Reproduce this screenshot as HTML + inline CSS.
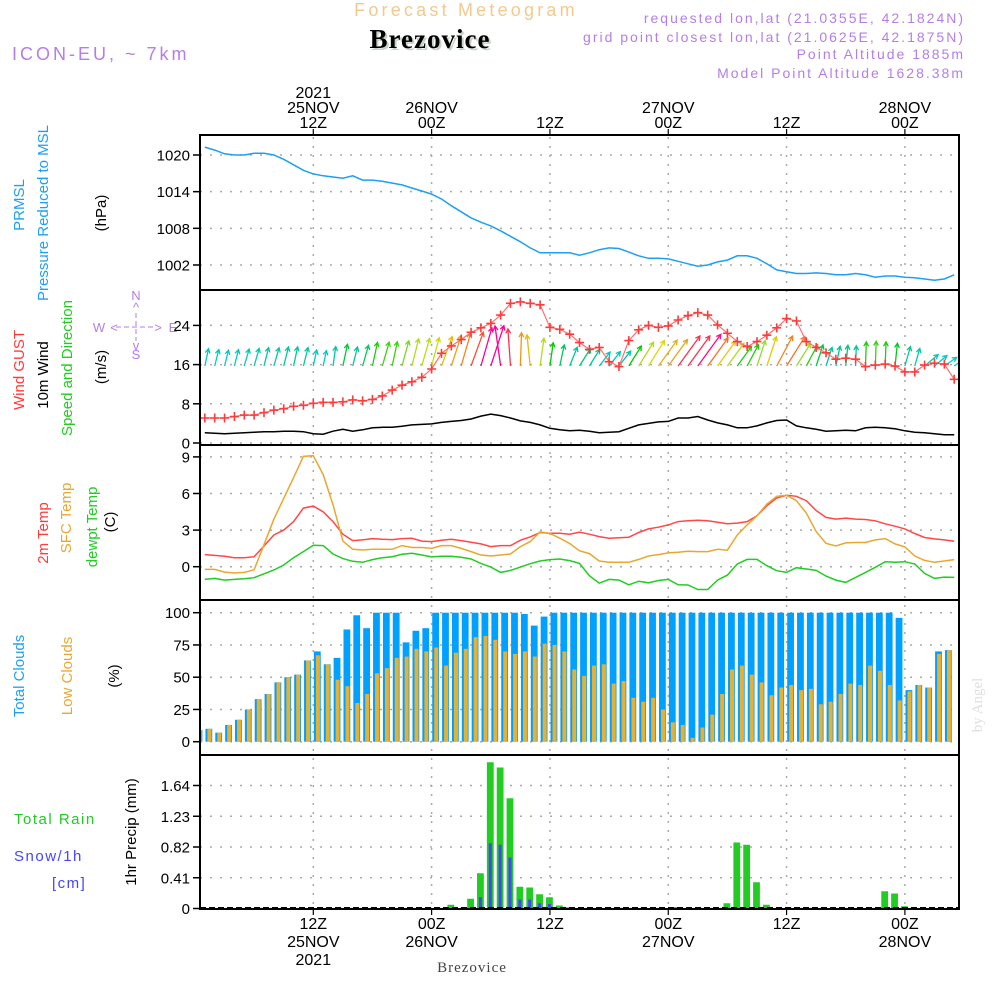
<!DOCTYPE html>
<html><head><meta charset="utf-8"><title>Meteogram Brezovice</title>
<style>
html,body{margin:0;padding:0;background:#fff;}
svg{display:block;font-family:"Liberation Sans",sans-serif;}
</style></head>
<body>
<svg id="chart" width="1000" height="1000" viewBox="0 0 1000 1000" xmlns="http://www.w3.org/2000/svg">
<g>
<text x="466" y="16" text-anchor="middle" font-size="18" fill="#f3c98e" letter-spacing="3.2">Forecast Meteogram</text>
<text x="432" y="50" text-anchor="middle" font-family="Liberation Serif,serif" font-weight="bold" font-size="27" fill="#c8d4c8" letter-spacing="1">Brezovice</text>
<text x="430" y="48" text-anchor="middle" font-family="Liberation Serif,serif" font-weight="bold" font-size="27" fill="#000" letter-spacing="1">Brezovice</text>
<text x="12" y="60" font-size="18" fill="#b57ee6" letter-spacing="3">ICON-EU, ~ 7km</text>
<g font-size="14" fill="#b57ee6" text-anchor="end" letter-spacing="2">
<text x="965" y="23">requested lon,lat (21.0355E, 42.1824N)</text>
<text x="965" y="42">grid point closest lon,lat (21.0625E, 42.1875N)</text>
<text x="965" y="59">Point Altitude 1885m</text>
<text x="965" y="78">Model Point Altitude 1628.38m</text>
</g>
</g>
<g id="grid"></g>
<g id="marks"></g>
<g id="axes"></g>
<g font-size="15">
<text transform="translate(24,205) rotate(-90)" text-anchor="middle" fill="#1ea0f0">PRMSL</text>
<text transform="translate(48,213) rotate(-90)" text-anchor="middle" fill="#1ea0f0">Pressure Reduced to MSL</text>
<text transform="translate(106,213) rotate(-90)" text-anchor="middle" fill="#000">(hPa)</text>
<text transform="translate(24,370) rotate(-90)" text-anchor="middle" fill="#ff3a3a">Wind GUST</text>
<text transform="translate(48,375) rotate(-90)" text-anchor="middle" fill="#000">10m Wind</text>
<text transform="translate(72,368) rotate(-90)" text-anchor="middle" fill="#22cc22">Speed and Direction</text>
<text transform="translate(106,367) rotate(-90)" text-anchor="middle" fill="#000">(m/s)</text>
<g fill="#b57ee6" font-size="13" text-anchor="middle">
<text x="136" y="300">N</text><text x="136" y="359">S</text><text x="99" y="332">W</text><text x="173" y="332">E</text>
<text x="136" y="312">^</text><text x="136" y="350">v</text>
<line x1="136" y1="313" x2="136" y2="341" stroke="#b57ee6" stroke-dasharray="5,3"/>
<line x1="116" y1="327" x2="156" y2="327" stroke="#b57ee6" stroke-dasharray="5,3"/>
<text x="114" y="332">&lt;</text><text x="158" y="332">&gt;</text>
</g>
<text transform="translate(48,533) rotate(-90)" text-anchor="middle" fill="#ff3a3a">2m Temp</text>
<text transform="translate(71,518) rotate(-90)" text-anchor="middle" fill="#e8a830">SFC Temp</text>
<text transform="translate(97,527) rotate(-90)" text-anchor="middle" fill="#22cc22">dewpt Temp</text>
<text transform="translate(115,522) rotate(-90)" text-anchor="middle" fill="#000">(C)</text>
<text transform="translate(24,676) rotate(-90)" text-anchor="middle" fill="#1ea0f0">Total Clouds</text>
<text transform="translate(72,676) rotate(-90)" text-anchor="middle" fill="#e8a830">Low Clouds</text>
<text transform="translate(119,676) rotate(-90)" text-anchor="middle" fill="#000">(%)</text>
<text x="14" y="824" fill="#22cc22" letter-spacing="1.5">Total  Rain</text>
<text x="14" y="861" fill="#4444ff" letter-spacing="1.5">Snow/1h</text>
<text x="52" y="888" fill="#4444ff" letter-spacing="1.5">[cm]</text>
<text transform="translate(136,832) rotate(-90)" text-anchor="middle" fill="#000">1hr Precip (mm)</text>
</g>
<text transform="translate(982,705) rotate(-90)" text-anchor="middle" font-family="Liberation Serif,serif" font-size="15" fill="#dde0dd">by Angel</text>
<text x="472" y="972" text-anchor="middle" font-family="Liberation Serif,serif" font-size="15" fill="#444" letter-spacing="1">Brezovice</text>
</svg>
<script>
const startHour = 1;
const pressure = [1021.3,1020.8,1020.2,1020,1020,1020.3,1020.3,1020,1019.3,1018.4,1017.5,1016.9,1016.6,1016.4,1016.2,1016.6,1015.9,1015.9,1015.7,1015.4,1015.1,1014.6,1014.1,1013.6,1012.8,1011.7,1010.7,1009.7,1009.0,1008.4,1007.6,1006.7,1005.8,1004.8,1004.0,1004.0,1004.0,1004.0,1003.6,1004.0,1004.5,1004.8,1004.7,1004.1,1003.5,1003.1,1003.1,1003.0,1002.6,1002.2,1001.8,1002.0,1002.5,1002.8,1003.5,1003.5,1003.1,1002.2,1001.2,1000.9,1000.6,1000.6,1000.7,1000.6,1000.4,1000.4,1000.6,1000.4,1000.0,1000.2,1000.2,1000.0,999.9,999.7,999.5,999.7,1000.4];
const gust = [5.1,5.1,5.1,5.4,5.7,5.7,6.2,6.7,7.0,7.5,7.7,8.1,8.3,8.3,8.4,8.8,8.6,8.9,9.6,10.8,11.8,12.5,13.4,15.1,18.3,19.8,21.1,22.6,23.5,24.4,26.1,28.5,28.8,28.5,28.2,23.6,23.2,22.2,20.5,19.1,19.5,16.6,15.6,20.9,23.1,24.0,23.6,23.9,25.1,26.0,26.6,26.1,24.1,22.4,20.7,19.7,20.7,22.0,23.5,25.4,24.9,20.7,19.5,18.4,17.1,17.3,17.1,15.6,15.9,16.1,15.7,14.5,14.5,15.9,16.3,16.1,13.0];
const wind10m = [2.1,2.0,1.9,2.0,2.1,2.2,2.3,2.3,2.4,2.4,2.3,1.9,1.8,2.4,2.8,2.4,2.7,3.1,3.2,3.2,3.4,3.7,3.8,3.9,4.2,4.4,4.6,4.9,5.5,5.9,5.6,5.1,4.5,4.2,3.7,3.0,2.7,2.5,2.6,2.4,2.1,2.2,2.3,3.0,3.7,4.0,4.3,4.4,5.1,5.1,5.4,4.7,4.1,3.7,3.1,3.1,3.5,4.1,4.6,4.7,3.5,3.1,2.8,2.4,2.5,2.6,2.5,3.1,3.2,3.1,2.9,2.5,2.2,2.1,1.9,1.7,1.7];
const windDir = [12,14,14,14,16,16,14,16,14,12,14,12,12,8,12,14,16,12,16,12,15,14,16,15,20,18,16,20,16,18,-8,-4,2,-6,8,8,12,22,32,32,38,38,38,32,32,32,36,36,36,36,36,36,36,36,36,28,18,18,28,32,32,28,18,18,12,6,2,2,2,2,6,16,16,50,50,55,55];
const temp2m = [0.99,0.93,0.85,0.74,0.74,0.82,1.7,2.6,3.0,3.7,4.8,4.97,4.5,3.7,2.66,2.14,2.2,2.3,2.25,2.22,2.3,2.33,2.1,2.06,2.17,2.25,2.14,2.0,1.87,1.65,1.73,1.73,2.17,2.44,2.8,2.75,2.75,2.66,2.83,2.66,2.47,2.33,2.38,2.42,2.8,3.1,3.24,3.43,3.7,3.76,3.8,3.76,3.65,3.52,3.57,3.7,4.17,5.0,5.63,5.85,5.77,5.41,4.6,4.04,3.9,3.98,3.9,3.87,3.76,3.52,3.32,3.1,2.72,2.39,2.28,2.2,2.09];
const tempSfc = [-0.22,-0.22,-0.44,-0.52,-0.47,-0.25,1.8,3.9,5.6,7.3,9.04,9.1,7.55,5.08,2.1,1.43,1.37,1.43,1.43,1.43,1.73,1.57,1.57,1.5,1.73,1.73,1.5,1.24,0.96,0.88,0.96,1.04,1.65,2.06,2.86,2.72,2.34,1.9,1.3,1.07,0.47,0.36,0.36,0.36,0.6,0.88,0.99,1.13,1.18,1.26,1.24,1.24,1.43,1.35,2.6,3.43,4.17,5.14,5.77,5.85,5.41,4.4,2.88,1.92,1.7,1.95,1.98,1.98,2.2,2.3,1.87,1.62,0.88,0.52,0.36,0.47,0.58];
const dewpt = [-1.04,-0.96,-1.1,-1.04,-0.99,-0.9,-0.58,-0.27,0.14,0.74,1.24,1.76,1.73,1.04,0.66,0.44,0.36,0.58,0.74,0.82,1.02,1.1,0.96,0.8,0.85,0.85,0.77,0.63,0.27,-0.03,-0.47,-0.3,-0.03,0.25,0.47,0.58,0.63,0.5,0.27,-0.74,-1.35,-1.04,-1.1,-1.48,-1.2,-1.32,-1.13,-1.04,-1.48,-1.5,-1.87,-1.87,-1.1,-0.69,0.22,0.6,0.6,0.08,-0.33,-0.47,-0.08,-0.19,-0.3,-0.77,-1.1,-1.29,-0.88,-0.47,-0.05,0.41,0.36,0.41,0.22,-0.55,-0.96,-0.85,-0.88];
const cloudStart = 0;
const totalClouds = [9,10,7,13,17,25,33,37,46,50,52,63,70,60,65,87,98,88,100,100,100,77,86,88,100,100,100,100,100,100,100,100,100,99,90,97,100,100,100,100,100,100,100,100,100,100,100,100,100,100,100,100,100,100,100,100,100,100,100,100,100,100,100,100,100,100,100,100,100,100,100,96,40,44,42,70,71];
const lowClouds = [9,10,7,13,17,25,33,37,46,50,52,63,67,60,48,43,30,37,53,57,65,66,72,70,73,59,69,72,81,82,79,70,68,70,66,76,75,70,56,51,59,60,45,47,34,31,34,25,15,13,3,11,21,37,56,59,52,46,36,42,44,40,41,29,31,37,45,44,59,55,44,32,39,44,42,68,71];
const precipHours = [26,28,29,30,31,32,33,34,35,36,37,38,49,54,55,56,57,58,70,71,72];
const rain = [0.05,0.13,0.47,1.95,1.88,1.47,0.29,0.28,0.19,0.15,0.04,0.015,0.02,0.07,0.88,0.85,0.35,0.05,0.23,0.2,0.03];
const snow = [0,0.01,0.15,0.87,0.85,0.68,0.12,0.12,0.07,0.06,0,0,0,0,0,0,0,0,0,0,0];
const pressureTicks = [1020,1014,1008,1002];
const windTicks = [24,16,8,0];
const tempTicks = [9,6,3,0];
const cloudTicks = [100,75,50,25,0];
const precipTicks = [1.64,1.23,0.82,0.41,0];
const timeTickHours = [12,24,36,48,60,72];
const topTimeLabels = [["2021","25NOV","12Z"],["26NOV","00Z"],["12Z"],["27NOV","00Z"],["12Z"],["28NOV","00Z"]];
const bottomTimeLabels = [["12Z","25NOV","2021"],["00Z","26NOV"],["12Z"],["00Z","27NOV"],["12Z"],["00Z","28NOV"]];

const NS="http://www.w3.org/2000/svg";
const L=200,R=959;
const panels={p:[135,290],w:[290,445],t:[445,600],c:[600,755],r:[755,909]};
function x(h){return 313.3+(h-12)*9.86;}
function yP(v){return 155+(1020-v)*6.11;}
function yW(v){return 443-v*4.9;}
function yT(v){return 566.7-v*12.2;}
function yC(v){return 741.7-v*1.29;}
function yR(v){return 908.5-v*75;}
function el(tag,attrs,parent){const e=document.createElementNS(NS,tag);for(const k in attrs)e.setAttribute(k,attrs[k]);parent.appendChild(e);return e;}
const grid=document.getElementById('grid'),marks=document.getElementById('marks'),axes=document.getElementById('axes');
const svg=document.getElementById('chart');
const defs=el('defs',{},svg);
for(const k in panels){const cp=el('clipPath',{id:'clip-'+k},defs);el('rect',{x:L,y:panels[k][0],width:R-L,height:panels[k][1]-panels[k][0]},cp);}
for(const h of timeTickHours){
 const ln=el('line',{x1:x(h),x2:x(h),y1:137,y2:907,stroke:'#aaa','stroke-width':1.5,'stroke-dasharray':'2,7'},grid);
 
 
}
function yAxis(ticks,fy,fmt,name){
 for(const t of ticks){
  const y=fy(t);
  const g=el('line',{x1:L,x2:R,y1:y,y2:y,stroke:'#aaa','stroke-width':1.5,'stroke-dasharray':'2,8'},grid);
  
  
  el('line',{x1:L-7,x2:L,y1:y,y2:y,stroke:'#000','stroke-width':1.5},axes);
  const tx=el('text',{x:L-10,y:y+5.5,'text-anchor':'end','font-size':15,fill:'#000'},axes);
  tx.textContent=fmt(t);
  
  
 }
}
yAxis(pressureTicks,yP,String,'pressure');
yAxis(windTicks,yW,String,'wind');
yAxis(tempTicks,yT,String,'temp');
yAxis(cloudTicks,yC,String,'cloud');
yAxis(precipTicks,yR,t=>t===0?'0':t.toFixed(2),'precip');
for(const k in panels){
 const f=el('rect',{x:L,y:panels[k][0],width:R-L,height:panels[k][1]-panels[k][0],fill:'none',stroke:'#000','stroke-width':2},axes);
 
 
}
timeTickHours.forEach((h,i)=>{
 el('line',{x1:x(h),x2:x(h),y1:129,y2:135,stroke:'#000','stroke-width':1.2},axes);
 el('line',{x1:x(h),x2:x(h),y1:909,y2:915,stroke:'#000','stroke-width':1.2},axes);
 const top=topTimeLabels[i];
 top.forEach((s,j)=>{
  const t=el('text',{x:x(h),y:128-(top.length-1-j)*15,'text-anchor':'middle','font-size':16,fill:'#000'},axes);
  t.textContent=s;
  
  
 });
 bottomTimeLabels[i].forEach((s,j)=>{
  const t=el('text',{x:x(h),y:929+j*18,'text-anchor':'middle','font-size':16,fill:'#000'},axes);
  t.textContent=s;
  
  
 });
});
function line(arr,fx,fy,color,clip,name,w){
 const d=arr.map((v,i)=>(i?'L':'M')+fx(i).toFixed(1)+','+fy(v).toFixed(1)).join('');
 const p=el('path',{d:d,fill:'none',stroke:color,'stroke-width':w||1.5,'clip-path':'url(#clip-'+clip+')'},marks);
 
 
 return p;
}
const fx=i=>x(startHour+i);
line(pressure,fx,yP,'#1ea0f0','p','pressure-line');
line(wind10m,fx,yW,'#000','w','wind10m-line');
const stops=[[1.8,[0,204,204]],[2.5,[0,200,150]],[3.0,[0,204,0]],[3.5,[150,220,40]],[4.0,[225,215,0]],[4.5,[240,150,20]],[5.0,[255,60,60]],[5.5,[255,0,150]]];
function col(s){
 if(s<=stops[0][0])return 'rgb('+stops[0][1]+')';
 for(let i=1;i<stops.length;i++){if(s<=stops[i][0]){const a=stops[i-1],b=stops[i],f=(s-a[0])/(b[0]-a[0]);return 'rgb('+a[1].map((c,k)=>Math.round(c+(b[1][k]-c)*f))+')';}}
 return 'rgb('+stops[stops.length-1][1]+')';
}
const ag=el('g',{'clip-path':'url(#clip-w)'},marks);
wind10m.forEach((s,i)=>{
 const bx=fx(i),by=366,len=4+6.5*s,a=windDir[i]*Math.PI/180;
 const tx=bx+len*Math.sin(a),ty=by-len*Math.cos(a);
 const h1=a+Math.PI-0.5,h2=a+Math.PI+0.5;
 const c=col(s);
 const p=el('path',{d:`M${bx},${by}L${tx},${ty}M${tx+5*Math.sin(h1)},${ty-5*Math.cos(h1)}L${tx},${ty}L${tx+5*Math.sin(h2)},${ty-5*Math.cos(h2)}`,stroke:c,fill:'none','stroke-width':1.3},ag);
 
 
});
line(gust,fx,yW,'#ff7070','w','gust-line',1.2);
const gg=el('g',{stroke:'#ff3a3a','stroke-width':1.6,'clip-path':'url(#clip-w)'},marks);
gust.forEach((v,i)=>{
 const cx=fx(i),cy=yW(v);
 const p=el('path',{d:`M${cx-4.5},${cy}H${cx+4.5}M${cx},${cy-4.5}V${cy+4.5}`},gg);
 
 
});
line(temp2m,fx,yT,'#ff4848','t','temp2m-line');
line(tempSfc,fx,yT,'#e8a830','t','sfc-temp-line');
line(dewpt,fx,yT,'#22cc22','t','dewpt-line');
const cg=el('g',{'clip-path':'url(#clip-c)'},marks);
totalClouds.forEach((v,i)=>{
 const h=cloudStart+i,bx=x(h);
 const b=el('rect',{x:bx+0.6,y:yC(v),width:6.8,height:yC(0)-yC(v),fill:'#00a0ff'},cg);
 
 
 const o=el('rect',{x:bx+2.6,y:yC(lowClouds[i]),width:4,height:yC(0)-yC(lowClouds[i]),fill:'#e8b030'},cg);
 
 
});
const pg=el('g',{'clip-path':'url(#clip-r)'},marks);
precipHours.forEach((h,i)=>{
 const cx=x(h)-0.5;
 const g=el('rect',{x:cx-3.4,y:yR(rain[i]),width:6.8,height:yR(0)-yR(rain[i]),fill:'#22cc22'},pg);
 
 
 if(snow[i]>0){
  const s=el('rect',{x:cx-1.5,y:yR(snow[i]),width:3,height:yR(0)-yR(snow[i]),fill:'#4444ff'},pg);
  
  
 }
});
const bl=el('line',{x1:L,x2:R,y1:908,y2:908,stroke:'#000','stroke-width':2,'stroke-dasharray':'6,3'},axes);


</script>
</body></html>
